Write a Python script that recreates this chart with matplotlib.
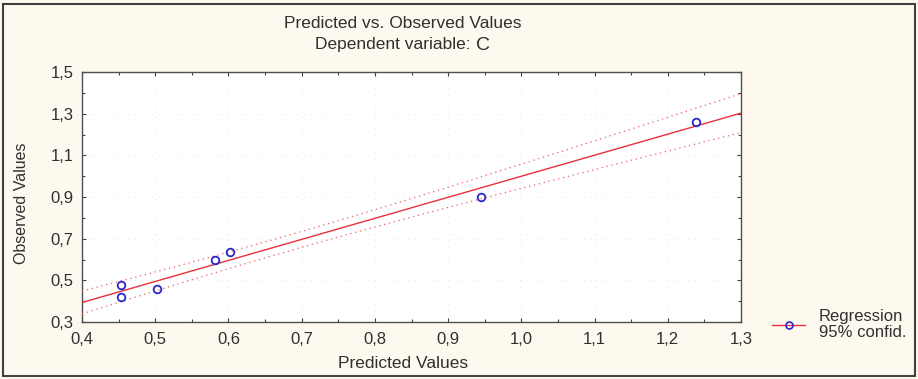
import numpy as np
import matplotlib.pyplot as plt
from matplotlib.ticker import FixedLocator, FuncFormatter, MultipleLocator
from matplotlib.patches import Rectangle

predicted = np.array([0.453, 0.453, 0.503, 0.581, 0.602, 0.945, 1.239])
observed = np.array([0.478, 0.419, 0.458, 0.599, 0.637, 0.900, 1.260])

x_ticks = [0.4, 0.5, 0.6, 0.7, 0.8, 0.9, 1.0, 1.1, 1.2, 1.3]
y_ticks = [0.3, 0.5, 0.7, 0.9, 1.1, 1.3, 1.5]

# regression of observed on predicted, with 95% band for the mean
n = len(predicted)
b, a = np.polyfit(predicted, observed, 1)
resid = observed - (a + b * predicted)
s = np.sqrt(np.sum(resid ** 2) / (n - 2))
t95 = 2.5706  # t(0.975, df=5)
xbar = predicted.mean()
sxx = np.sum((predicted - xbar) ** 2)
xx = np.linspace(0.4, 1.3, 200)
yy = a + b * xx
hw = t95 * s * np.sqrt(1 / n + (xx - xbar) ** 2 / sxx)

bg = '#fdf9ef'
fig = plt.figure(figsize=(9.18, 3.79), dpi=100, facecolor=bg)
ax = fig.add_axes([82 / 918, 57 / 379, 659 / 918, 250 / 379])
ax.set_facecolor('white')

ax.plot(xx, yy, color='#e8303a', lw=1.0, zorder=3)
ax.plot(xx, yy + hw, color='#ea6068', lw=0.9, ls=(0, (1, 3)), zorder=3)
ax.plot(xx, yy - hw, color='#ea6068', lw=0.9, ls=(0, (1, 3)), zorder=3)
ax.plot(predicted, observed, ls='none', marker='o', ms=5.5, mfc='none',
        mec='#2828c8', mew=1.3, zorder=4)

ax.set_xlim(0.4, 1.3)
ax.set_ylim(0.3, 1.5)
ax.xaxis.set_major_locator(FixedLocator(x_ticks))
ax.yaxis.set_major_locator(FixedLocator(y_ticks))
ax.xaxis.set_minor_locator(MultipleLocator(0.05))
ax.yaxis.set_minor_locator(MultipleLocator(0.1))
fmt = FuncFormatter(lambda v, p: f'{v:.1f}'.replace('.', ','))
ax.xaxis.set_major_formatter(fmt)
ax.yaxis.set_major_formatter(fmt)
ax.tick_params(which='both', direction='in', top=True, right=True,
               color='#404040', labelsize=12, labelcolor='#303030')
ax.tick_params(which='major', length=3, width=0.8)
ax.tick_params(which='minor', length=2.5, width=0.8)
for lbl in ax.get_xticklabels() + ax.get_yticklabels():
    lbl.set_family(['Liberation Sans', 'DejaVu Sans'])
ax.tick_params(axis='x', pad=7)
ax.tick_params(axis='y', pad=6)
for sp in ax.spines.values():
    sp.set_color('#505050')
    sp.set_linewidth(1.0)
ax.grid(True, which='major', color='#dcdcdc', lw=0.6, ls=(0, (1, 6)))

sans = ['Liberation Sans', 'DejaVu Sans']
ax.set_xlabel('Predicted Values', family=sans, fontsize=12.5,
              color='#303030', va='center')
ax.set_ylabel('Observed Values', family=sans, fontsize=11.5,
              color='#303030', va='center')
ax.xaxis.set_label_coords((403 - 82) / 659, -(364 - 322) / 250)
ax.yaxis.set_label_coords((22 - 82) / 659, (322 - 203) / 250)

fig.text(403 / 918, 1 - 24 / 379, 'Predicted vs. Observed Values',
         family=sans, fontsize=12.5, color='#303030', ha='center', va='center')
fig.text(471 / 918, 1 - 45 / 379, 'Dependent variable:',
         family=sans, fontsize=12.5, color='#303030', ha='right', va='center')
fig.text(476 / 918, 1 - 45 / 379, 'C', family=sans,
         fontsize=14, color='#303030', ha='left', va='center')

h, = ax.plot([], [], color='#e8303a', lw=1.0, marker='o', ms=5, mfc='none',
             mec='#2828c8', mew=1.2)
leg = fig.legend([h], ['Regression\n95% confid.'], loc='center left',
                 bbox_to_anchor=(772 / 918, 1 - 324.5 / 379), frameon=False,
                 handlelength=2.0, handletextpad=0.8, borderpad=0,
                 borderaxespad=0,
                 prop={'family': sans, 'size': 12})
leg.get_texts()[0].set_linespacing(1.05)
leg.get_texts()[0].set_color('#303030')

fig.add_artist(Rectangle((3 / 918, 3 / 379), 912 / 918, 372 / 379,
                         transform=fig.transFigure, fill=False,
                         edgecolor='#404040', lw=1.5))

fig.savefig('out.png', dpi=100, facecolor=bg)
